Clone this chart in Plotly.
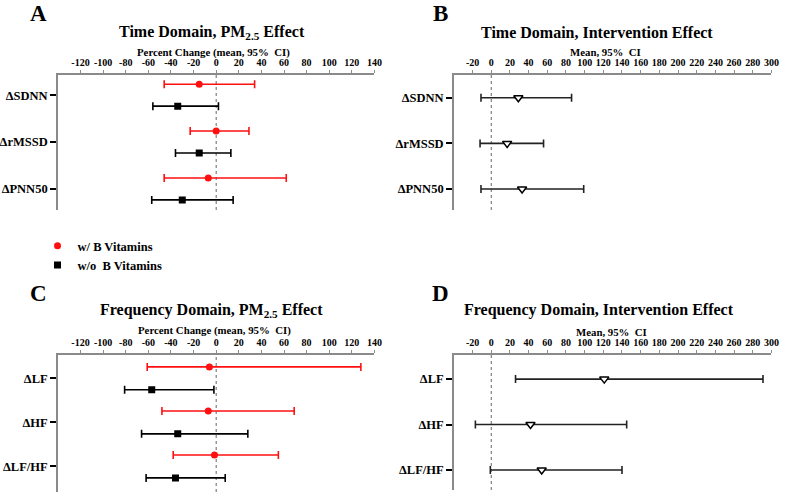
import plotly.graph_objects as go
import numpy as np

# ---------------- data ----------------
time_metrics = ["ΔSDNN", "ΔrMSSD", "ΔPNN50"]
freq_metrics = ["ΔLF", "ΔHF", "ΔLF/HF"]

# Panel A: time domain, PM2.5 effect (percent change)
time_with_mean = [-15, 0, -7]
time_with_lo = [-46, -23, -46]
time_with_hi = [34, 29, 62]
time_without_mean = [-34, -15, -30]
time_without_lo = [-56, -36, -57]
time_without_hi = [2, 13, 15]

# Panel C: frequency domain, PM2.5 effect (percent change)
freq_with_mean = [-6, -7, -1.5]
freq_with_lo = [-61, -48, -38]
freq_with_hi = [128, 69, 55]
freq_without_mean = [-57, -34, -36]
freq_without_lo = [-81, -66, -62]
freq_without_hi = [-2, 28, 8]

# Panel B: time domain, intervention effect
time_int_mean = [29, 17, 33]
time_int_lo = [-11, -12, -11]
time_int_hi = [86, 56, 99]

# Panel D: frequency domain, intervention effect
freq_int_mean = [121, 42, 54]
freq_int_lo = [26, -17, -1]
freq_int_hi = [291, 145, 140]

pct_ticks = list(range(-120, 141, 20))
mean_ticks = list(range(-20, 301, 20))

# ---------------- layout helpers ----------------
W, H = 787, 493
FONT = "Liberation Serif"
RED = "#ff1010"
GRAY = "#8a8a8a"


def px_x(p):
    return p / W


def px_y(p):
    return 1 - p / H


fig = go.Figure()


def err(mean, lo, hi):
    m = np.array(mean, float)
    return dict(type="data", symmetric=False,
                array=(np.array(hi, float) - m).tolist(),
                arrayminus=(m - np.array(lo, float)).tolist(),
                thickness=1.6, width=4)


def add_pair(xa, ya, wm, wl, wh, om, ol, oh, off, legend):
    idx = np.arange(len(wm))
    e = err(wm, wl, wh)
    e["color"] = RED
    fig.add_trace(go.Scatter(
        x=wm, y=(idx - off).tolist(), mode="markers", xaxis=xa, yaxis=ya,
        marker=dict(symbol="circle", size=7, color=RED),
        error_x=e, name="w/ B Vitamins", showlegend=legend))
    e2 = err(om, ol, oh)
    e2["color"] = "black"
    fig.add_trace(go.Scatter(
        x=om, y=(idx + off).tolist(), mode="markers", xaxis=xa, yaxis=ya,
        marker=dict(symbol="square", size=7, color="black"),
        error_x=e2, name="w/o  B Vitamins", showlegend=legend))


def add_int(xa, ya, m, lo, hi):
    idx = np.arange(len(m))
    e = err(m, lo, hi)
    e["color"] = "#222"
    fig.add_trace(go.Scatter(
        x=m, y=idx.tolist(), mode="markers", xaxis=xa, yaxis=ya,
        marker=dict(symbol="triangle-down", size=8, color="white",
                    line=dict(color="black", width=1.5)),
        error_x=e, showlegend=False))


add_pair("x", "y", time_with_mean, time_with_lo, time_with_hi,
         time_without_mean, time_without_lo, time_without_hi, 0.234, True)
add_int("x2", "y2", time_int_mean, time_int_lo, time_int_hi)
add_pair("x3", "y3", freq_with_mean, freq_with_lo, freq_with_hi,
         freq_without_mean, freq_without_lo, freq_without_hi, 0.26, False)
add_int("x4", "y4", freq_int_mean, freq_int_lo, freq_int_hi)


def xaxis(x0, x1, y_anchor, rng, ticks):
    return dict(domain=[px_x(x0), px_x(x1)], anchor=y_anchor, side="top",
                range=rng, tickvals=ticks, ticktext=[str(t) for t in ticks],
                showgrid=False, zeroline=False, showline=True,
                linecolor=GRAY, linewidth=1.5, ticks="outside", ticklen=3,
                tickcolor=GRAY, tickwidth=1,
                tickfont=dict(family=FONT, size=10, color="black", weight="bold"))


def yaxis(y_top, y_bot, x_anchor, rng, labels):
    return dict(domain=[px_y(y_bot), px_y(y_top)], anchor=x_anchor,
                range=rng, tickvals=list(range(len(labels))), ticktext=labels,
                showgrid=False, zeroline=False, showline=True,
                linecolor=GRAY, linewidth=1.5, ticks="outside", ticklen=6,
                tickcolor="black", tickwidth=2,
                tickfont=dict(family=FONT, size=12.5, color="black", weight="bold"))


fig.update_layout(
    width=W, height=H, margin=dict(l=0, r=0, t=0, b=0),
    plot_bgcolor="white", paper_bgcolor="white",
    xaxis=xaxis(55.7, 376.7, "y", [-140, 140], pct_ticks),
    yaxis=yaxis(75, 210, "x", [2.45, -0.43], time_metrics),
    xaxis2=xaxis(457.3, 779.3, "y2", [-40, 300], mean_ticks),
    yaxis2=yaxis(75, 210, "x2", [2.46, -0.5], time_metrics),
    xaxis3=xaxis(55.7, 376.7, "y3", [-140, 140], pct_ticks),
    yaxis3=yaxis(355, 492, "x3", [2.58, -0.53], freq_metrics),
    xaxis4=xaxis(457.3, 779.3, "y4", [-40, 300], mean_ticks),
    yaxis4=yaxis(355, 490, "x4", [2.44, -0.53], freq_metrics),
    legend=dict(x=px_x(35), y=px_y(231), xanchor="left", yanchor="top",
                font=dict(family=FONT, size=12.5, color="black", weight="bold"),
                bgcolor="rgba(0,0,0,0)", tracegroupgap=0),
    showlegend=True,
)

# dotted zero lines
for xa, ya in [("x", "y"), ("x2", "y2"), ("x3", "y3"), ("x4", "y4")]:
    fig.add_shape(type="line", xref=xa, yref=f"{ya} domain", x0=0, x1=0,
                  y0=0, y1=1, line=dict(color="#666", width=1, dash="dot"),
                  layer="below")


def ann(text, x, y, size):
    fig.add_annotation(text=text, x=px_x(x), y=px_y(y), xref="paper",
                       yref="paper", xanchor="center", yanchor="middle",
                       showarrow=False,
                       font=dict(family=FONT, size=size, color="black",
                                 weight="bold"))


ann("A", 36, 14, 23)
ann("B", 444, 13, 23)
ann("C", 36, 293, 23)
ann("D", 444, 293, 23)
ann("Time Domain, PM<sub>2.5</sub> Effect", 211.5, 32, 16)
ann("Time Domain, Intervention Effect", 602.5, 32, 16)
ann("Frequency Domain, PM<sub>2.5</sub> Effect", 211, 310, 16)
ann("Frequency Domain, Intervention Effect", 604, 310, 16)
ann("Percent Change (mean, 95%  CI)", 213.5, 52, 10.8)
ann("Mean, 95%  CI", 611, 52, 10.8)
ann("Percent Change (mean, 95%  CI)", 214, 330, 10.8)
ann("Mean, 95%  CI", 617.5, 331.5, 10.8)

fig.write_html("out.html", config={"displayModeBar": False},
               post_script="document.body.style.margin='0';")
